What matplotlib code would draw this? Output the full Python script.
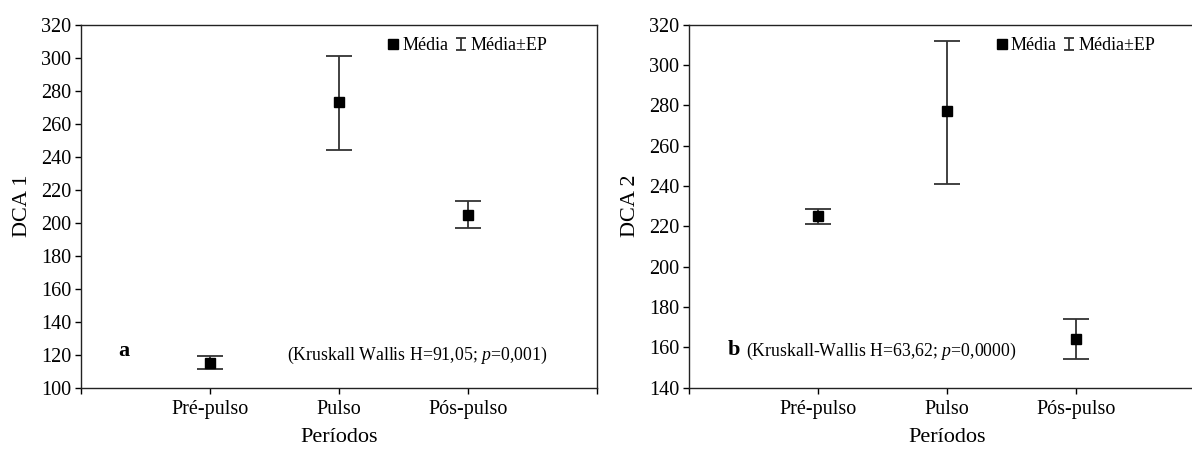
import matplotlib
matplotlib.use("Agg")
import matplotlib.pyplot as plt
from matplotlib.lines import Line2D
from matplotlib.legend_handler import HandlerErrorbar
from matplotlib import rcParams

rcParams["font.family"] = ["Liberation Serif", "DejaVu Serif"]
rcParams["mathtext.fontset"] = "custom"
rcParams["mathtext.rm"] = "Liberation Serif"
rcParams["mathtext.it"] = "Liberation Serif:italic"

# data
periods = ["Pré-pulso", "Pulso", "Pós-pulso"]
x_pos = [1, 2, 3]

# panel a: DCA 1
dca1_mean = [115, 273, 204.5]
dca1_low = [111.5, 244, 196.5]
dca1_high = [119, 301, 213]

# panel b: DCA 2
dca2_mean = [225, 277, 164]
dca2_low = [221, 241, 154]
dca2_high = [228.5, 312, 174]

bar_color = "#333333"


def cap_update(legend_handle, orig_handle):
    legend_handle.update_from(orig_handle)
    if isinstance(legend_handle, Line2D):
        legend_handle.set_markersize(7)


def draw_panel(ax, mean, low, high, ylim, ylabel, letter, letter_xy, stat, stat_xy):
    yerr = [[m - l for m, l in zip(mean, low)], [h - m for m, h in zip(mean, high)]]
    eb = ax.errorbar(x_pos, mean, yerr=yerr, fmt="none", ecolor=bar_color,
                     elinewidth=1.3, capsize=9.3, capthick=1.3, zorder=2)
    ax.plot(x_pos, mean, linestyle="none", marker="s", color="black",
            markersize=6.8, zorder=3)

    ax.set_xlim(0, 4)
    ax.set_ylim(*ylim)
    ax.set_xticks([0] + x_pos + [4])
    ax.set_xticklabels([""] + periods + [""])
    ax.set_yticks(range(ylim[0], ylim[1] + 1, 20))
    ax.tick_params(direction="out", length=4, width=1, labelsize=14.5)
    ax.tick_params(axis="y", pad=3)
    ax.tick_params(axis="x", pad=5)
    for s in ax.spines.values():
        s.set_linewidth(1.0)
        s.set_color("#222222")

    ax.set_ylabel(ylabel, fontsize=16)
    ax.yaxis.set_label_coords(-0.095, 0.5)
    ax.set_xlabel("Períodos", fontsize=16)
    ax.xaxis.set_label_coords(0.5, -0.11)

    ax.text(letter_xy[0], letter_xy[1], letter, fontsize=16, fontweight="bold",
            va="center", ha="left")
    ax.text(stat_xy[0], stat_xy[1], stat, fontsize=12.8, va="center", ha="left")

    mean_handle = Line2D([], [], linestyle="none", marker="s", color="black",
                         markersize=7)
    ax.legend([mean_handle, eb], ["Média", "Média±EP"], ncol=2,
              loc="upper left", bbox_to_anchor=(0.595, 0.965), frameon=False,
              fontsize=13, handlelength=0.6, handletextpad=0.2,
              columnspacing=0.4, borderpad=0, borderaxespad=0,
              handler_map={type(eb): HandlerErrorbar(xerr_size=0.5, yerr_size=0.34,
                                                     update_func=cap_update)})


fig = plt.figure(figsize=(11.92, 4.51), dpi=100)
ax1 = fig.add_axes([0.0677, 0.1404, 0.4334, 0.8048])
ax2 = fig.add_axes([0.578, 0.1404, 0.4334, 0.8048])

draw_panel(ax1, dca1_mean, dca1_low, dca1_high, (100, 320), "DCA 1",
           "a", (0.29, 122), r"(Kruskall Wallis H=91,05; $\it{p}$=0,001)", (1.6, 119.6))
draw_panel(ax2, dca2_mean, dca2_low, dca2_high, (140, 320), "DCA 2",
           "b", (0.3, 158.5), r"(Kruskall-Wallis H=63,62; $\it{p}$=0,0000)", (0.44, 158))

fig.savefig("out.png", dpi=100)
